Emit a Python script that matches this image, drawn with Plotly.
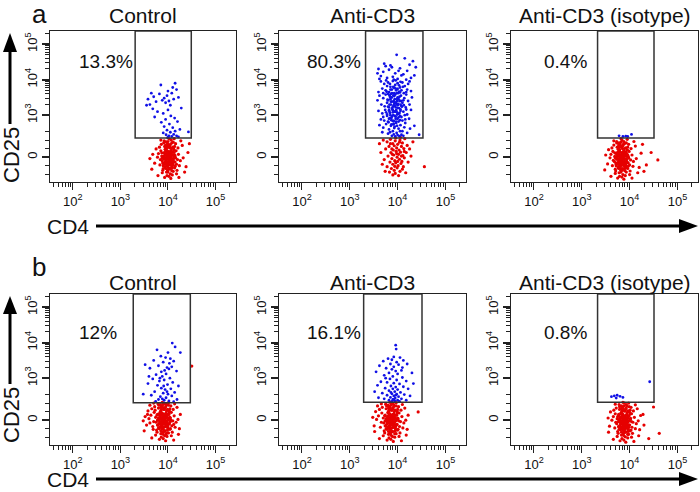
import plotly.graph_objects as go
import math

# ---------------- data (display units: x = log10(CD4), y = biexponential CD25 display scale) -------------
panel_titles = ["Control", "Anti-CD3", "Anti-CD3 (isotype)", "Control", "Anti-CD3", "Anti-CD3 (isotype)"]
percent_labels = ["13.3%", "80.3%", "0.4%", "12%", "16.1%", "0.8%"]
percent_pos_x = [2.69, 2.66, 2.66, 2.53, 2.68, 2.66]
percent_pos_y = [4.50, 4.50, 4.50, 4.30, 4.30, 4.30]
gate_x0 = [3.31, 3.33, 3.33, 3.27, 3.29, 3.33]
gate_x1 = [4.49, 4.53, 4.51, 4.47, 4.51, 4.51]
gate_y0 = [2.36, 2.36, 2.36, 2.31, 2.32, 2.32]

x_tick_vals = [2, 3, 4, 5]
x_tick_text = ["10<sup>2</sup>", "10<sup>3</sup>", "10<sup>4</sup>", "10<sup>5</sup>"]
y_zero_display = 1.82
y_tick_vals = [y_zero_display, 3, 4, 5]
y_tick_text = ["0", "10<sup>3</sup>", "10<sup>4</sup>", "10<sup>5</sup>"]
y_linear_minor = [2.54, 2.30, 2.06, 1.58, 1.34]

a1_red = [(4.02,1.75),(3.95,1.80),(4.10,1.70),(4.05,1.90),(3.98,1.62),(4.08,1.55),(3.92,1.95),(4.12,2.05),(4.00,2.15),(3.88,1.72),
(4.15,1.85),(4.03,1.48),(3.96,2.25),(4.07,2.30),(3.90,1.50),(4.18,1.62),(3.85,2.00),(4.11,1.42),(4.00,1.98),(3.94,1.68),
(4.06,1.82),(3.99,1.58),(4.13,1.95),(3.87,1.85),(4.20,1.75),(4.04,2.08),(3.93,2.12),(4.09,1.65),(3.97,1.40),(4.16,2.20),
(3.83,1.60),(4.01,1.88),(4.14,1.52),(3.91,1.78),(4.05,1.35),(3.95,2.00),(4.22,1.90),(3.86,2.18),(4.08,2.22),(4.00,1.66),
(3.80,1.92),(4.24,1.58),(3.98,1.30),(4.12,1.78),(3.89,1.45),(4.03,2.33),(4.17,2.00),(3.94,1.55),(4.06,1.60),(3.92,2.28),
(4.10,1.88),(3.84,1.75),(4.19,1.45),(4.01,1.52),(3.97,1.92),(4.07,2.00),(3.90,1.64),(4.14,2.12),(3.99,2.20),(4.04,1.70),
(3.78,1.82),(4.26,1.72),(3.88,1.38),(4.09,1.32),(4.21,2.08),(3.82,2.10),(4.02,1.28),(4.15,1.68),(3.96,1.72),(4.11,1.60),
(3.72,1.65),(4.32,1.80),(3.75,2.05),(4.30,2.15),(3.93,1.25),(4.18,1.35),(4.38,1.55),(3.68,1.90),(4.00,2.36),(4.13,2.34),
(3.66,1.48),(4.42,1.95),(3.85,2.30),(4.27,2.28),(4.06,1.22),(3.79,1.30),(4.35,1.40),(3.62,1.78),(4.45,2.20),(4.23,1.25),
(3.98,1.85),(4.05,1.78),(4.01,1.62),(3.95,1.88),(4.08,1.72),(4.03,1.95),(3.97,2.05),(4.10,2.10),(3.91,1.85),(4.06,1.50),
(3.96,1.74),(4.00,1.80),(4.04,1.68),(4.08,1.78),(3.92,1.84),(4.02,1.92),(4.06,1.62),(3.98,1.56),(4.10,1.96),(3.94,2.04),
(4.01,2.10),(4.07,2.06),(3.97,1.66),(4.12,1.70),(3.90,1.58),(4.04,1.50),(3.99,1.46),(4.14,1.88),(3.93,1.92),(4.05,2.18),
(3.95,2.16),(4.09,1.52),(4.02,1.60),(3.88,1.80),(4.16,1.80),(4.00,2.26),(4.11,2.24),(3.91,2.22),(4.06,1.86),(3.97,1.98),
(4.03,1.74),(4.13,2.02),(3.89,1.66),(4.08,1.44),(3.95,1.50),(4.01,1.70),(4.05,1.98),(3.99,1.88),(4.10,1.64),(3.93,1.76),
(4.04,2.14),(3.96,2.10),(4.15,1.56),(3.87,1.94),(4.00,1.40),(4.07,1.92),(3.98,1.78),(4.12,1.84),(3.94,1.62),(4.03,1.84)]
a1_blue = [(3.58,3.45),(3.62,3.30),(3.70,3.52),(3.75,3.38),(3.82,3.60),(3.88,3.42),(3.92,3.48),(3.95,3.35),(3.98,3.55),(4.02,3.40),
(4.05,3.28),(4.08,3.62),(4.12,3.45),(4.18,3.72),(4.22,3.50),(3.85,3.85),(4.15,3.90),(4.10,3.78),(3.68,3.18),(3.78,3.10),
(3.90,3.05),(4.00,3.15),(4.06,2.98),(3.95,2.88),(4.14,2.92),(3.86,2.80),(4.03,2.75),(4.20,2.82),(3.92,2.68),(4.10,2.65),
(3.98,2.58),(4.05,2.52),(4.15,2.55),(4.25,2.60),(3.96,2.45),(4.02,2.42),(4.08,2.40),(4.12,2.46),(4.18,2.42),(4.00,2.38),
(4.22,2.39),(3.90,2.50),(4.43,2.53),(3.55,3.28),(3.72,2.95),(4.28,3.20),(3.65,3.62),(4.00,3.68)]

a2_red = [(3.70,2.30),(3.78,2.25),(3.85,2.32),(3.90,2.20),(3.95,2.28),(4.00,2.18),(4.05,2.30),(4.10,2.22),(4.15,2.34),(3.82,2.12),
(3.88,2.05),(3.93,2.14),(3.98,2.08),(4.03,2.02),(4.08,2.12),(4.13,2.06),(4.20,2.15),(3.75,2.05),(3.86,1.95),(3.92,1.88),
(3.97,1.98),(4.02,1.90),(4.06,1.96),(4.11,1.86),(4.18,1.95),(3.80,1.85),(3.88,1.78),(3.94,1.72),(3.99,1.82),(4.04,1.76),
(4.09,1.70),(4.14,1.80),(3.72,1.75),(3.84,1.68),(3.90,1.62),(3.96,1.66),(4.01,1.58),(4.07,1.64),(4.12,1.55),(4.22,1.68),
(3.78,1.55),(3.87,1.50),(3.93,1.45),(3.99,1.52),(4.05,1.42),(4.10,1.48),(3.83,1.40),(3.95,1.36),(4.02,1.30),(3.90,1.32),
(3.65,1.95),(4.28,1.85),(4.56,1.55),(3.62,2.20),(4.32,2.25),(3.96,2.36),(4.06,2.38),(3.74,1.42),(4.17,1.38),(3.98,1.92),
(3.91,2.02),(4.00,1.70),(3.85,2.20),(4.08,1.85),(3.94,1.56),(4.25,2.05),(3.68,1.62),(4.04,2.24),(3.89,1.90),(4.14,1.98)]
a2_blue = [(3.98,4.70),(4.32,4.52),(3.72,4.45),(4.15,4.60),(3.85,4.40),(4.38,4.35),(3.60,4.30),(4.25,4.42),
(3.70,4.22),(3.82,4.28),(3.95,4.18),(4.05,4.32),(4.12,4.15),(4.20,4.25),(3.65,4.10),(3.78,4.05),(3.90,4.08),(4.00,4.02),(4.08,4.12),(4.28,4.05),
(3.58,4.18),(3.88,4.35),(4.18,4.00),(3.75,4.38),(4.02,4.25),(3.62,4.02),(4.35,4.12),(3.92,4.00),
(3.65,3.95),(3.72,3.88),(3.80,3.92),(3.85,3.80),(3.90,3.96),(3.95,3.85),(4.00,3.90),(4.05,3.78),(4.10,3.92),(4.15,3.82),(4.22,3.88),
(3.68,3.75),(3.75,3.70),(3.82,3.65),(3.88,3.72),(3.93,3.62),(3.98,3.74),(4.03,3.66),(4.08,3.70),(4.13,3.62),(4.20,3.72),(4.28,3.68),
(3.60,3.65),(3.78,3.82),(3.86,3.60),(3.96,3.98),(4.01,3.62),(4.11,3.80),(3.70,3.62),(3.92,3.78),(3.84,3.88),(4.06,3.94),(4.18,3.65),(3.76,3.98),(4.25,3.95),
(3.62,3.55),(3.70,3.48),(3.75,3.58),(3.80,3.42),(3.84,3.52),(3.88,3.38),(3.91,3.56),(3.94,3.45),(3.97,3.32),(4.00,3.50),(4.04,3.40),(4.07,3.55),
(4.10,3.35),(4.14,3.48),(4.18,3.58),(4.22,3.40),(4.30,3.50),(3.66,3.30),(3.73,3.25),(3.78,3.35),(3.82,3.22),(3.86,3.30),(3.90,3.24),(3.93,3.34),
(3.96,3.22),(4.00,3.28),(4.03,3.20),(4.06,3.30),(4.09,3.24),(4.13,3.28),(4.17,3.22),(4.25,3.30),(3.58,3.42),(3.85,3.45),(3.95,3.58),(4.02,3.45),
(3.88,3.50),(3.99,3.40),(3.92,3.28),(4.12,3.42),
(3.60,3.12),(3.68,3.05),(3.74,3.15),(3.78,2.98),(3.83,3.10),(3.87,2.92),(3.90,3.08),(3.94,2.98),(3.97,3.14),(4.00,2.90),(4.04,3.06),(4.08,2.95),
(4.12,3.10),(4.16,2.88),(4.20,3.02),(4.28,3.15),(3.65,2.88),(3.72,2.85),(3.80,2.82),(3.85,3.00),(3.92,2.84),(3.96,2.90),(4.02,2.82),(4.06,3.12),
(4.10,2.85),(4.15,3.00),(4.24,2.90),(3.88,3.18),(3.99,3.02),(3.82,2.90),(3.94,3.10),(4.05,2.98),(3.76,3.08),(4.18,3.16),(3.70,2.95),
(3.62,2.72),(3.70,2.65),(3.76,2.75),(3.82,2.60),(3.86,2.70),(3.90,2.55),(3.94,2.68),(3.98,2.50),(4.02,2.62),(4.06,2.72),(4.10,2.55),(4.14,2.66),
(4.20,2.50),(4.26,2.62),(3.80,2.48),(3.88,2.42),(3.95,2.40),(4.00,2.44),(4.04,2.41),(4.08,2.45),(3.92,2.46),(3.84,2.52),(4.12,2.42),(4.45,2.45),
(3.68,2.52),(3.97,2.78),(4.05,2.55),(3.91,2.74),(4.16,2.78),(4.35,2.70),
(3.80,3.60),(3.86,3.50),(3.92,3.40),(3.98,3.62),(4.04,3.52),(3.83,3.30),(3.89,3.20),(3.95,3.10),(4.01,3.32),(4.06,3.16),
(3.78,3.02),(3.84,2.92),(3.90,2.84),(3.96,2.96),(4.02,3.04),(3.87,2.74),(3.93,2.64),(3.99,2.70),(4.05,2.86),(3.81,2.80),
(3.85,3.72),(3.91,3.80),(3.97,3.70),(4.03,3.84),(3.79,3.44),(3.88,3.62),(3.94,3.26),(4.00,3.20),(3.82,3.14),(3.91,3.00),
(3.97,2.82),(4.07,3.40),(3.86,3.38),(3.93,3.54),(3.99,3.46),(3.84,3.06),(3.90,3.14),(3.96,3.36),(4.02,2.94),(3.88,2.96),
(3.80,3.24),(3.94,3.76),(4.05,3.64),(3.87,2.86),(3.99,3.08),(3.83,3.56),(3.92,2.76),(4.00,3.74),(3.77,3.66),(4.08,3.26)]

a3_red = [(3.83,1.72),(3.76,1.78),(3.90,1.66),(3.86,1.88),(3.79,1.60),(3.92,1.52),(3.72,1.92),(3.95,2.02),(3.82,2.12),(3.68,1.70),
(3.97,1.84),(3.84,1.45),(3.78,2.22),(3.88,2.26),(3.70,1.48),(4.00,1.60),(3.65,1.98),(3.93,1.40),(3.81,1.96),(3.75,1.66),
(3.87,1.80),(3.80,1.56),(3.94,1.92),(3.69,1.84),(4.02,1.74),(3.85,2.06),(3.74,2.10),(3.91,1.62),(3.78,1.38),(3.98,2.18),
(3.64,1.58),(3.82,1.86),(3.96,1.50),(3.73,1.76),(3.86,1.33),(3.77,1.98),(4.05,1.88),(3.67,2.16),(3.89,2.20),(3.81,1.64),
(3.61,1.90),(4.07,1.56),(3.79,1.28),(3.94,1.76),(3.71,1.43),(3.84,2.30),(3.99,1.98),(3.76,1.53),(3.88,1.58),(3.73,2.26),
(3.92,1.86),(3.66,1.73),(4.01,1.43),(3.83,1.50),(3.78,1.90),(3.89,1.98),(3.72,1.62),(3.96,2.10),(3.80,2.18),(3.86,1.68),
(3.59,1.80),(4.08,1.70),(3.70,1.36),(3.91,1.30),(4.03,2.06),(3.63,2.08),(3.84,1.26),(3.97,1.66),(3.77,1.70),(3.93,1.58),
(3.54,1.63),(4.14,1.78),(3.56,2.03),(4.12,2.13),(3.75,1.23),(4.00,1.33),(4.20,1.53),(3.50,1.88),(3.82,2.34),(3.95,2.32),
(3.48,1.46),(4.24,1.93),(3.67,2.28),(4.09,2.26),(3.88,1.20),(3.61,1.28),(4.17,1.38),(4.59,1.74),(4.27,2.18),(4.05,1.23),
(3.80,1.83),(3.87,1.76),(3.83,1.60),(3.77,1.86),(3.90,1.70),(3.85,1.93),(3.79,2.03),(3.92,2.08),(3.73,1.83),(3.88,1.48),
(4.35,1.60),(4.45,1.95),(4.30,1.42),(3.86,1.63),(3.81,1.78),(3.74,1.95),(3.94,1.68),(3.79,1.75),(3.85,1.82),(3.89,1.90),
(3.78,1.74),(3.82,1.80),(3.86,1.68),(3.90,1.78),(3.74,1.84),(3.84,1.92),(3.88,1.62),(3.80,1.56),(3.92,1.96),(3.76,2.04),
(3.83,2.10),(3.89,2.06),(3.79,1.66),(3.94,1.70),(3.72,1.58),(3.86,1.50),(3.81,1.46),(3.96,1.88),(3.75,1.92),(3.87,2.18),
(3.77,2.16),(3.91,1.52),(3.84,1.60),(3.70,1.80),(3.98,1.80),(3.82,2.24),(3.93,2.22),(3.73,2.22),(3.88,1.86),(3.79,1.98),
(3.85,1.74),(3.95,2.02),(3.71,1.66),(3.90,1.44),(3.77,1.50),(3.83,1.70),(3.87,1.98),(3.81,1.88),(3.92,1.64),(3.75,1.76),
(3.86,2.14),(3.78,2.10),(3.97,1.56),(3.69,1.94),(3.82,1.40),(3.89,1.92),(3.80,1.78),(3.94,1.84),(3.76,1.62),(3.85,1.84)]
a3_blue = [(3.78,2.42),(3.86,2.40),(3.92,2.41),(3.96,2.40),(4.04,2.46)]

b1_red = [(3.90,1.78),(3.83,1.84),(3.97,1.72),(3.93,1.94),(3.86,1.66),(4.00,1.58),(3.78,1.98),(4.03,2.08),(3.89,2.18),(3.75,1.76),
(4.05,1.88),(3.91,1.50),(3.84,2.26),(3.95,2.28),(3.76,1.54),(4.08,1.66),(3.71,2.04),(4.01,1.46),(3.88,2.02),(3.81,1.72),
(3.94,1.86),(3.86,1.62),(4.02,1.98),(3.74,1.90),(4.10,1.80),(3.92,2.12),(3.80,2.16),(3.98,1.68),(3.85,1.44),(4.06,2.22),
(3.68,1.64),(3.89,1.92),(4.04,1.56),(3.79,1.82),(3.93,1.38),(3.84,2.04),(4.13,1.94),(3.72,2.20),(3.97,2.25),(3.88,1.70),
(3.64,1.96),(4.15,1.62),(3.86,1.34),(4.00,1.82),(3.77,1.48),(3.91,2.30),(4.07,2.04),(3.82,1.58),(3.95,1.64),(3.79,2.28),
(3.99,1.90),(3.70,1.78),(4.09,1.48),(3.90,1.56),(3.85,1.96),(3.96,2.02),(3.78,1.68),(4.04,2.14),(3.87,2.22),(3.92,1.74),
(3.60,1.86),(4.17,1.76),(3.74,1.40),(3.98,1.36),(4.11,2.12),(3.66,2.14),(3.90,1.30),(4.03,1.72),(3.84,1.76),(3.99,1.62),
(3.55,1.68),(4.21,1.84),(3.58,2.08),(4.19,2.18),(3.82,1.28),(4.07,1.38),(4.24,1.58),(3.52,1.92),(3.88,2.32),(4.01,2.31),
(3.50,1.52),(4.26,1.98),(3.70,2.30),(4.14,2.28),(3.95,1.24),(3.66,1.32),(4.22,1.42),(3.48,1.80),(3.62,2.24),(4.12,1.26),
(3.87,1.86),(3.94,1.80),(3.89,1.64),(3.83,1.90),(3.97,1.76),(3.91,1.98),(3.85,2.08),(3.99,2.12),(3.80,1.88),(3.93,1.52),
(3.62,1.74),(3.57,1.98),(3.69,1.56),(4.12,1.70),(3.73,2.10),(3.96,1.44),(3.81,2.00),(4.05,1.78),(3.86,1.70),(3.90,1.88),
(4.50,3.34),
(3.86,1.76),(3.90,1.82),(3.94,1.70),(3.98,1.80),(3.82,1.86),(3.92,1.94),(3.96,1.64),(3.88,1.58),(4.00,1.98),(3.84,2.06),
(3.91,2.12),(3.97,2.08),(3.87,1.68),(4.02,1.72),(3.80,1.60),(3.94,1.52),(3.89,1.48),(4.04,1.90),(3.83,1.94),(3.95,2.20),
(3.85,2.18),(3.99,1.54),(3.92,1.62),(3.78,1.82),(4.06,1.82),(3.90,2.26),(4.01,2.24),(3.81,2.24),(3.96,1.88),(3.87,2.00),
(3.93,1.76),(4.03,2.04),(3.79,1.68),(3.98,1.46),(3.85,1.52),(3.91,1.72),(3.95,2.00),(3.89,1.90),(4.00,1.66),(3.83,1.78),
(3.94,2.16),(3.86,2.12),(4.05,1.58),(3.77,1.96),(3.90,1.42),(3.97,1.94),(3.88,1.80),(4.02,1.86),(3.84,1.64),(3.93,1.86)]
b1_blue = [(4.09,3.99),(4.15,3.88),(3.77,3.80),(4.00,3.72),(4.26,3.72),(3.85,3.62),(3.95,3.58),(4.05,3.55),(3.70,3.50),(3.90,3.45),
(4.12,3.48),(3.52,3.38),(3.80,3.35),(3.98,3.30),(4.02,3.26),(3.93,3.22),(4.08,3.32),(3.86,3.18),(3.62,3.28),(4.18,3.20),
(3.75,3.10),(3.88,3.05),(3.96,3.12),(4.04,3.00),(3.68,2.98),(3.82,2.92),(3.92,2.95),(4.10,2.88),(3.58,2.85),(3.78,2.80),
(3.99,2.82),(4.22,2.78),(3.86,2.72),(3.94,2.68),(4.06,2.70),(3.72,2.62),(3.90,2.58),(4.00,2.55),(4.14,2.60),(3.65,2.52),
(3.84,2.48),(3.96,2.45),(4.08,2.50),(3.80,2.40),(3.92,2.38),(4.02,2.36),(3.88,2.42),(4.19,2.40),(3.48,2.55),(3.74,2.35),
(4.12,2.34),(3.98,2.62),(3.83,3.00),(4.03,3.42),(3.91,2.78),(3.60,3.05)]

b2_red = [(3.86,1.76),(3.79,1.82),(3.93,1.70),(3.89,1.92),(3.82,1.64),(3.96,1.56),(3.74,1.96),(3.99,2.06),(3.85,2.16),(3.71,1.74),
(4.01,1.86),(3.87,1.48),(3.80,2.24),(3.91,2.27),(3.72,1.52),(4.04,1.64),(3.67,2.02),(3.97,1.44),(3.84,2.00),(3.77,1.70),
(3.90,1.84),(3.82,1.60),(3.98,1.96),(3.70,1.88),(4.06,1.78),(3.88,2.10),(3.76,2.14),(3.94,1.66),(3.81,1.42),(4.02,2.20),
(3.64,1.62),(3.85,1.90),(4.00,1.54),(3.75,1.80),(3.89,1.36),(3.80,2.02),(4.09,1.92),(3.68,2.18),(3.93,2.23),(3.84,1.68),
(3.60,1.94),(4.11,1.60),(3.82,1.32),(3.96,1.80),(3.73,1.46),(3.87,2.30),(4.03,2.02),(3.78,1.56),(3.91,1.62),(3.75,2.27),
(3.95,1.88),(3.66,1.76),(4.05,1.46),(3.86,1.54),(3.81,1.94),(3.92,2.00),(3.74,1.66),(4.00,2.12),(3.83,2.20),(3.88,1.72),
(3.56,1.84),(4.13,1.74),(3.70,1.38),(3.94,1.34),(4.07,2.10),(3.62,2.12),(3.86,1.28),(3.99,1.70),(3.80,1.74),(3.95,1.60),
(3.51,1.66),(4.17,1.82),(3.54,2.06),(4.15,2.16),(3.78,1.26),(4.03,1.36),(4.20,1.56),(3.48,1.90),(3.84,2.32),(3.97,2.31),
(3.52,1.50),(4.22,1.96),(3.66,2.28),(4.10,2.26),(3.91,1.22),(3.62,1.30),(4.18,1.40),(4.43,2.05),(3.58,2.22),(4.08,1.24),
(3.83,1.84),(3.90,1.78),(3.85,1.62),(3.79,1.88),(3.93,1.74),(3.87,1.96),(3.81,2.06),(3.95,2.10),(3.76,1.86),(3.89,1.50),
(3.82,1.74),(3.86,1.80),(3.90,1.68),(3.94,1.78),(3.78,1.84),(3.88,1.92),(3.92,1.62),(3.84,1.56),(3.96,1.96),(3.80,2.04),
(3.87,2.10),(3.93,2.06),(3.83,1.66),(3.98,1.70),(3.76,1.58),(3.90,1.50),(3.85,1.46),(4.00,1.88),(3.79,1.92),(3.91,2.18),
(3.81,2.16),(3.95,1.52),(3.88,1.60),(3.74,1.80),(4.02,1.80),(3.86,2.24),(3.97,2.22),(3.77,2.22),(3.92,1.86),(3.83,1.98),
(3.89,1.74),(3.99,2.02),(3.75,1.66),(3.94,1.44),(3.81,1.50),(3.87,1.70),(3.91,1.98),(3.85,1.88),(3.96,1.64),(3.79,1.76),
(3.90,2.14),(3.82,2.10),(4.01,1.56),(3.73,1.94),(3.86,1.40),(3.93,1.92),(3.84,1.78),(3.98,1.84),(3.80,1.62),(3.89,1.84)]
b2_blue = [(3.96,3.93),(3.97,3.82),(3.92,3.60),(4.05,3.58),(3.80,3.55),(3.88,3.52),(4.12,3.50),(3.70,3.48),(3.98,3.45),(3.85,3.40),
(4.02,3.38),(3.62,3.35),(3.92,3.32),(4.20,3.40),(3.76,3.28),(3.88,3.25),(4.08,3.22),(3.96,3.20),(3.55,3.18),(3.82,3.15),
(4.00,3.12),(4.30,3.15),(3.72,3.08),(3.90,3.05),(4.10,3.02),(3.84,2.98),(3.98,2.95),(4.18,2.92),(3.65,2.90),(3.78,2.88),
(3.92,2.86),(4.04,2.84),(3.58,2.80),(3.86,2.78),(3.96,2.75),(4.12,2.76),(3.74,2.72),(3.90,2.70),(4.00,2.68),(4.22,2.70),
(3.82,2.65),(3.94,2.62),(4.06,2.60),(3.68,2.58),(3.88,2.56),(3.98,2.55),(4.14,2.54),(3.78,2.52),(3.92,2.50),(4.02,2.48),
(3.85,2.46),(3.95,2.44),(4.08,2.42),(3.72,2.42),(3.90,2.40),(4.00,2.38),(3.82,2.38),(3.94,2.36),(4.04,2.35),(3.88,2.35),
(4.18,2.38),(3.60,2.45),(3.96,2.52),(3.92,2.40),(3.86,2.60),(4.26,2.50),(3.52,2.62),(4.33,2.85),(3.75,3.00),(4.10,3.30)]

b3_red = [(3.88,1.74),(3.81,1.80),(3.95,1.68),(3.91,1.90),(3.84,1.62),(3.97,1.54),(3.77,1.94),(4.00,2.04),(3.87,2.14),(3.73,1.72),
(4.02,1.86),(3.89,1.47),(3.83,2.22),(3.93,2.26),(3.75,1.50),(4.05,1.62),(3.70,2.00),(3.98,1.42),(3.86,1.98),(3.80,1.68),
(3.92,1.82),(3.85,1.58),(3.99,1.94),(3.74,1.86),(4.07,1.76),(3.90,2.08),(3.79,2.12),(3.96,1.64),(3.83,1.40),(4.03,2.18),
(3.69,1.60),(3.87,1.88),(4.01,1.52),(3.78,1.78),(3.91,1.35),(3.82,2.00),(4.10,1.90),(3.72,2.16),(3.94,2.22),(3.86,1.66),
(3.66,1.92),(4.12,1.58),(3.84,1.30),(3.99,1.80),(3.76,1.45),(3.89,2.30),(4.04,2.00),(3.81,1.55),(3.93,1.60),(3.78,2.26),
(3.97,1.88),(3.71,1.76),(4.06,1.45),(3.88,1.52),(3.83,1.92),(3.94,1.98),(3.77,1.64),(4.01,2.10),(3.85,2.18),(3.90,1.70),
(3.63,1.82),(4.14,1.72),(3.74,1.36),(3.96,1.32),(4.08,2.08),(3.67,2.10),(3.88,1.26),(4.00,1.68),(3.82,1.72),(3.97,1.58),
(3.58,1.65),(4.18,1.80),(3.60,2.05),(4.16,2.14),(3.80,1.24),(4.04,1.34),(4.21,1.55),(3.55,1.88),(3.86,2.32),(3.98,2.30),
(3.56,1.48),(4.23,1.95),(3.70,2.27),(4.12,2.25),(3.92,1.20),(3.66,1.28),(4.19,1.38),(4.62,1.45),(4.50,2.19),(4.09,1.22),
(3.86,1.82),(3.92,1.76),(3.88,1.60),(3.81,1.86),(3.95,1.72),(3.89,1.94),(3.83,2.04),(3.97,2.08),(3.78,1.84),(3.91,1.50),
(4.30,1.68),(4.40,1.30),(4.28,1.98),(3.87,1.64),(3.84,1.78),(3.77,1.98),(3.95,1.80),(3.80,1.62),(3.86,1.90),(3.90,1.84),
(3.84,1.72),(3.88,1.78),(3.92,1.66),(3.96,1.76),(3.80,1.82),(3.90,1.90),(3.94,1.60),(3.86,1.54),(3.98,1.94),(3.82,2.02),
(3.89,2.08),(3.95,2.04),(3.85,1.64),(4.00,1.68),(3.78,1.56),(3.92,1.48),(3.87,1.44),(4.02,1.86),(3.81,1.90),(3.93,2.16),
(3.83,2.14),(3.97,1.50),(3.90,1.58),(3.76,1.78),(4.04,1.78),(3.88,2.22),(3.99,2.20),(3.79,2.20),(3.94,1.84),(3.85,1.96),
(3.91,1.72),(4.01,2.00),(3.77,1.64),(3.96,1.42),(3.83,1.48),(3.89,1.68),(3.93,1.96),(3.87,1.86),(3.98,1.62),(3.81,1.74),
(3.92,2.12),(3.84,2.08),(4.03,1.54),(3.75,1.92),(3.88,1.38),(3.95,1.90),(3.86,1.76),(4.00,1.82),(3.82,1.60),(3.91,1.82)]
b3_blue = [(3.62,2.48),(3.68,2.50),(3.74,2.52),(3.80,2.49),(3.86,2.46),(3.72,2.44),(4.42,2.90)]

red_sets = [a1_red, a2_red, a3_red, b1_red, b2_red, b3_red]
blue_sets = [a1_blue, a2_blue, a3_blue, b1_blue, b2_blue, b3_blue]

# ---------------- layout helpers (pixel geometry of the 700x492 page) ----------------
W, H = 700, 492
col_px = [(50, 236), (279, 466), (511, 698)]
row_px = [(31, 182), (294, 445)]
X_RANGE = [1.52, 5.43]
Y_RANGE = [1.12, 5.37]
FONT = "Liberation Sans, Arial, sans-serif"
RED = "#e60000"
BLUE = "#1010e6"
DARK = "#222222"

def fx(px):
    return px / W

def fy(py):
    return 1 - py / H

x_minor = []
for d in [1, 2, 3, 4, 5]:
    for m in range(2, 10):
        v = d + math.log10(m)
        if X_RANGE[0] < v < X_RANGE[1]:
            x_minor.append(v)
y_minor = list(y_linear_minor)
for d in [3, 4, 5]:
    for m in range(2, 10):
        v = d + math.log10(m)
        if v < Y_RANGE[1]:
            y_minor.append(v)

fig = go.Figure()
layout = dict(width=W, height=H, margin=dict(l=0, r=0, t=0, b=0),
              paper_bgcolor="white", plot_bgcolor="white", showlegend=False)
shapes = []
annotations = []

for i in range(6):
    r, c = divmod(i, 3)
    n = "" if i == 0 else str(i + 1)
    xa, ya = "x" + n, "y" + n
    layout["xaxis" + n] = dict(
        domain=[fx(col_px[c][0]), fx(col_px[c][1])], anchor=ya, range=X_RANGE,
        showline=True, mirror=True, linecolor=DARK, linewidth=1,
        ticks="outside", tickvals=x_tick_vals, ticktext=x_tick_text, ticklen=7,
        tickwidth=1, tickcolor=DARK,
        minor=dict(tickvals=x_minor, ticklen=4, ticks="outside", tickcolor=DARK, tickwidth=1),
        showgrid=False, zeroline=False, fixedrange=True,
        tickfont=dict(family=FONT, size=13, color="#111"))
    layout["yaxis" + n] = dict(
        domain=[fy(row_px[r][1]), fy(row_px[r][0])], anchor=xa, range=Y_RANGE,
        showline=True, mirror=True, linecolor=DARK, linewidth=1,
        ticks="outside", tickvals=y_tick_vals, ticktext=y_tick_text, ticklen=7,
        tickwidth=1.5, tickcolor=DARK, tickangle=-90,
        minor=dict(tickvals=y_minor, ticklen=4, ticks="outside", tickcolor=DARK, tickwidth=1),
        showgrid=False, zeroline=False, fixedrange=True,
        tickfont=dict(family=FONT, size=13, color="#111"))

    reds = red_sets[i]
    blues = blue_sets[i]
    fig.add_trace(go.Scatter(x=[p[0] for p in reds], y=[p[1] for p in reds], mode="markers",
                             marker=dict(size=3.2, color=RED, line=dict(width=0)),
                             xaxis=xa, yaxis=ya, hoverinfo="skip"))
    fig.add_trace(go.Scatter(x=[p[0] for p in blues], y=[p[1] for p in blues], mode="markers",
                             marker=dict(size=2.8, color=BLUE, line=dict(width=0)),
                             xaxis=xa, yaxis=ya, hoverinfo="skip"))

    shapes.append(dict(type="rect", xref=xa, yref=ya, x0=gate_x0[i], x1=gate_x1[i],
                       y0=gate_y0[i], y1=Y_RANGE[1], line=dict(color="#333", width=1.5)))
    annotations.append(dict(xref=xa, yref=ya, x=percent_pos_x[i], y=percent_pos_y[i],
                            text=percent_labels[i], showarrow=False,
                            font=dict(family=FONT, size=19, color="#111")))
    title_y = 16 if r == 0 else 282
    annotations.append(dict(xref="paper", yref="paper", x=fx((col_px[c][0] + col_px[c][1]) / 2),
                            y=fy(title_y), text=panel_titles[i], showarrow=False,
                            xanchor="center", yanchor="middle",
                            font=dict(family=FONT, size=21, color="#111")))

# panel letters
for letter, ly in [("a", 14), ("b", 267)]:
    annotations.append(dict(xref="paper", yref="paper", x=fx(39), y=fy(ly), text=letter,
                            showarrow=False, xanchor="center", yanchor="middle",
                            font=dict(family=FONT, size=26, color="#111")))

# axis arrows (CD25 vertical, CD4 horizontal)
for (text_cy, line_top, tip) in [(155, 52, 33), (415, 314, 296)]:
    annotations.append(dict(xref="paper", yref="paper", x=fx(11), y=fy(text_cy), text="CD25",
                            showarrow=False, textangle=-90, xanchor="center", yanchor="middle",
                            font=dict(family=FONT, size=22, color="#111")))
    shapes.append(dict(type="line", xref="paper", yref="paper", x0=fx(10), x1=fx(10),
                       y0=fy(text_cy - 31), y1=fy(line_top), line=dict(color="black", width=3)))
    shapes.append(dict(type="path", xref="paper", yref="paper",
                       path=f"M {fx(3)},{fy(line_top)} L {fx(17)},{fy(line_top)} L {fx(10)},{fy(tip)} Z",
                       fillcolor="black", line=dict(color="black", width=0)))

for cy in [226, 479]:
    annotations.append(dict(xref="paper", yref="paper", x=fx(68), y=fy(cy), text="CD4",
                            showarrow=False, xanchor="center", yanchor="middle",
                            font=dict(family=FONT, size=21, color="#111")))
    shapes.append(dict(type="line", xref="paper", yref="paper", x0=fx(96), x1=fx(680),
                       y0=fy(cy), y1=fy(cy), line=dict(color="black", width=3)))
    shapes.append(dict(type="path", xref="paper", yref="paper",
                       path=f"M {fx(679)},{fy(cy - 7)} L {fx(679)},{fy(cy + 7)} L {fx(698)},{fy(cy)} Z",
                       fillcolor="black", line=dict(color="black", width=0)))

layout["shapes"] = shapes
layout["annotations"] = annotations
fig.update_layout(**layout)
fig.write_html("out.html", config={"displayModeBar": False},
               post_script="document.body.style.margin='0';document.body.style.overflow='hidden';")
